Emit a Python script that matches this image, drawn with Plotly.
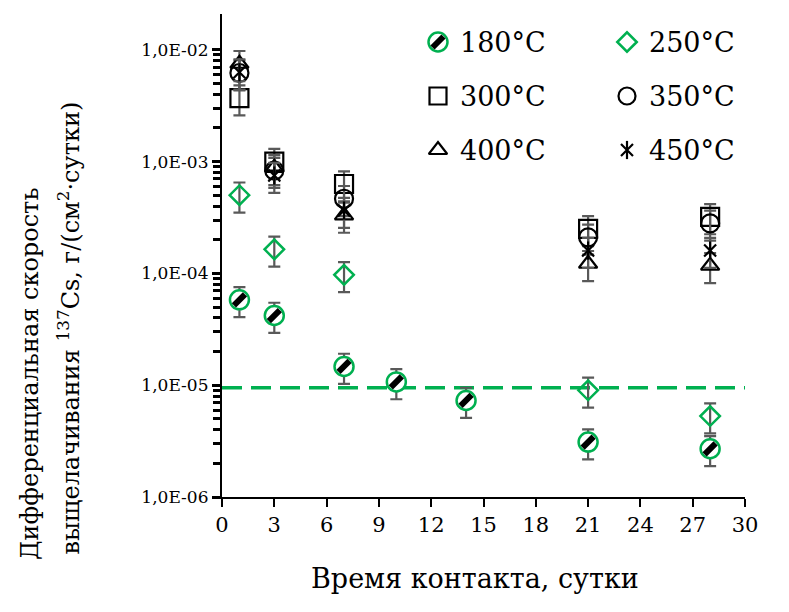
import plotly.graph_objects as go

# Contact time, days
days_180 = [1, 3, 7, 10, 14, 21, 28]
days_hi = [1, 3, 7, 21, 28]

# Differential leaching rate of 137Cs, g/(cm2*day)
rate_180 = [5.8e-5, 4.2e-5, 1.47e-5, 1.07e-5, 7.3e-6, 3.1e-6, 2.7e-6]
rate_250 = [5.0e-4, 1.64e-4, 9.7e-5, 9.0e-6, 5.3e-6]
rate_300 = [3.7e-3, 1.0e-3, 6.3e-4, 2.5e-4, 3.2e-4]
rate_350 = [6.2e-3, 8.3e-4, 4.65e-4, 2.1e-4, 2.8e-4]
rate_400 = [7.5e-3, 8.8e-4, 3.3e-4, 1.22e-4, 1.17e-4]
rate_450 = [6.3e-3, 7.5e-4, 3.65e-4, 1.6e-4, 1.6e-4]

error_pct = 30          # relative error, %
limit_rate = 9.5e-6     # reference level (dashed line)

series_names = ["180°C", "250°C", "300°C", "350°C", "400°C", "450°C"]
y_tick_vals = [1e-6, 1e-5, 1e-4, 1e-3, 1e-2]
y_tick_labels = ["1,0E-06", "1,0E-05", "1,0E-04", "1,0E-03", "1,0E-02"]
x_ticks = [0, 3, 6, 9, 12, 15, 18, 21, 24, 27, 30]

GREEN = "#00B050"
ERR = "#595959"
FONT = "DejaVu Serif"
Y_RANGE = [-6, -1.68]

# minor tick positions: 2..9 inside every decade
y_minor_vals = [m * v for v in y_tick_vals[:-1] for m in range(2, 10)]


def errbar():
    return dict(type="percent", value=error_pct, color=ERR, thickness=2.2, width=6)


fig = go.Figure()

# reference level
fig.add_trace(go.Scatter(x=[0, 30], y=[limit_rate, limit_rate], mode="lines",
                         line=dict(color=GREEN, width=3.5, dash="20px,9px"),
                         showlegend=False, hoverinfo="skip"))

# 180 °C: hatched circle (white circle + black diagonal stripe)
fig.add_trace(go.Scatter(x=days_180, y=rate_180, mode="markers", name=series_names[0],
                         marker=dict(symbol="circle", size=19, color="white",
                                     line=dict(color=GREEN, width=2.5)),
                         error_y=errbar(), showlegend=False))
fig.add_trace(go.Scatter(x=days_180, y=rate_180, mode="markers",
                         marker=dict(symbol="line-ne", size=11,
                                     line=dict(color="black", width=6)),
                         showlegend=False, hoverinfo="skip"))

fig.add_trace(go.Scatter(x=days_hi, y=rate_250, mode="markers", name=series_names[1],
                         marker=dict(symbol="diamond-open", size=15, color=GREEN,
                                     line=dict(color=GREEN, width=2.5)),
                         error_y=errbar(), showlegend=False))
fig.add_trace(go.Scatter(x=days_hi, y=rate_300, mode="markers", name=series_names[2],
                         marker=dict(symbol="square-open", size=18, color="black",
                                     line=dict(color="black", width=2.2)),
                         error_y=errbar(), showlegend=False))
fig.add_trace(go.Scatter(x=days_hi, y=rate_350, mode="markers", name=series_names[3],
                         marker=dict(symbol="circle-open", size=18, color="black",
                                     line=dict(color="black", width=2.2)),
                         error_y=errbar(), showlegend=False))
fig.add_trace(go.Scatter(x=days_hi, y=rate_400, mode="markers", name=series_names[4],
                         marker=dict(symbol="triangle-up-open", size=16, color="black",
                                     line=dict(color="black", width=2.2)),
                         error_y=errbar(), showlegend=False))
fig.add_trace(go.Scatter(x=days_hi, y=rate_450, mode="markers", name=series_names[5],
                         marker=dict(symbol="x-thin-open", size=12, color="black",
                                     line=dict(color="black", width=2.2)),
                         error_y=errbar(), showlegend=False))
fig.add_trace(go.Scatter(x=days_hi, y=rate_450, mode="markers",
                         marker=dict(symbol="line-ns-open", size=13, color="black",
                                     line=dict(color="black", width=2.2)),
                         showlegend=False, hoverinfo="skip"))

# empty trace that carries the minor-tick axis
fig.add_trace(go.Scatter(x=[None], y=[None], xaxis="x", yaxis="y3",
                         showlegend=False, hoverinfo="skip"))

# legend keys on an overlay axis measured in pixels of the plot area
L, R, T, B = 222, 44, 14, 115
W, H = 789, 612
leg_cols = [438, 627]
leg_rows = [42, 96, 150]
leg_text_dx = 20
key_styles = [
    [dict(symbol="circle", size=19, color="white", line=dict(color=GREEN, width=2.5)),
     dict(symbol="line-ne", size=11, line=dict(color="black", width=6))],
    [dict(symbol="diamond-open", size=15, color=GREEN, line=dict(color=GREEN, width=2.5))],
    [dict(symbol="square-open", size=17, color="black", line=dict(color="black", width=2.2))],
    [dict(symbol="circle-open", size=17, color="black", line=dict(color="black", width=2.2))],
    [dict(symbol="triangle-up-open", size=16, color="black", line=dict(color="black", width=2.2))],
    [dict(symbol="x-thin-open", size=12, color="black", line=dict(color="black", width=2.2)),
     dict(symbol="line-ns-open", size=13, color="black", line=dict(color="black", width=2.2))],
]
annotations = []
for i, name in enumerate(series_names):
    cx = leg_cols[i % 2]
    cy = leg_rows[i // 2]
    for st in key_styles[i]:
        fig.add_trace(go.Scatter(x=[cx], y=[cy], mode="markers", marker=st,
                                 xaxis="x2", yaxis="y2", showlegend=False,
                                 hoverinfo="skip"))
    annotations.append(dict(x=cx + leg_text_dx, y=cy, xref="x2", yref="y2",
                            text=name, showarrow=False, xanchor="left",
                            yanchor="middle", font=dict(family=FONT, size=27, color="black")))

# axis titles
annotations.append(dict(x=(475 - L) / (W - L - R), y=(H - B - 578) / (H - T - B),
                        xref="paper", yref="paper", text="Время контакта, сутки",
                        showarrow=False, xanchor="center", yanchor="middle",
                        font=dict(family=FONT, size=27, color="black")))
annotations.append(dict(x=(30 - L) / (W - L - R), y=(H - B - 562) / (H - T - B),
                        xref="paper", yref="paper", text="Дифференциальная скорость",
                        textangle=-90, showarrow=False, xanchor="center", yanchor="bottom",
                        font=dict(family=FONT, size=24, color="black")))
annotations.append(dict(x=(68 - L) / (W - L - R), y=(H - B - 557) / (H - T - B),
                        xref="paper", yref="paper",
                        text="выщелачивания <sup>137</sup>Cs, г/(см<sup>2</sup>·сутки)",
                        textangle=-90, showarrow=False, xanchor="center", yanchor="bottom",
                        font=dict(family=FONT, size=24, color="black")))

fig.update_layout(
    width=W, height=H,
    margin=dict(l=L, r=R, t=T, b=B),
    paper_bgcolor="white", plot_bgcolor="white",
    font=dict(family=FONT, color="black"),
    xaxis=dict(range=[0, 30], tickvals=x_ticks, ticks="outside", ticklen=8, tickwidth=2,
               tickcolor="black", showline=True, linecolor="black", linewidth=2.2,
               showgrid=False, zeroline=False, tickfont=dict(family=FONT, size=21)),
    yaxis=dict(type="log", range=Y_RANGE, tickvals=y_tick_vals, ticktext=y_tick_labels,
               ticks="outside", ticklen=8, tickwidth=2.5, tickcolor="black",
               showline=True, linecolor="black", linewidth=2.2, showgrid=False,
               zeroline=False, tickfont=dict(family=FONT, size=17)),
    # minor ticks on a twin log axis without labels
    yaxis3=dict(type="log", range=Y_RANGE, overlaying="y", anchor="x", side="left",
                tickmode="array", tickvals=y_minor_vals, ticks="outside", ticklen=8,
                tickwidth=2.5, tickcolor="black", showticklabels=False, showgrid=False,
                zeroline=False, showline=False, fixedrange=True),
    xaxis2=dict(overlaying="x", range=[L, W - R], visible=False, fixedrange=True),
    yaxis2=dict(overlaying="y", range=[H - B, T], visible=False, fixedrange=True),
    annotations=annotations,
    showlegend=False,
)

fig.write_html("out.html")
